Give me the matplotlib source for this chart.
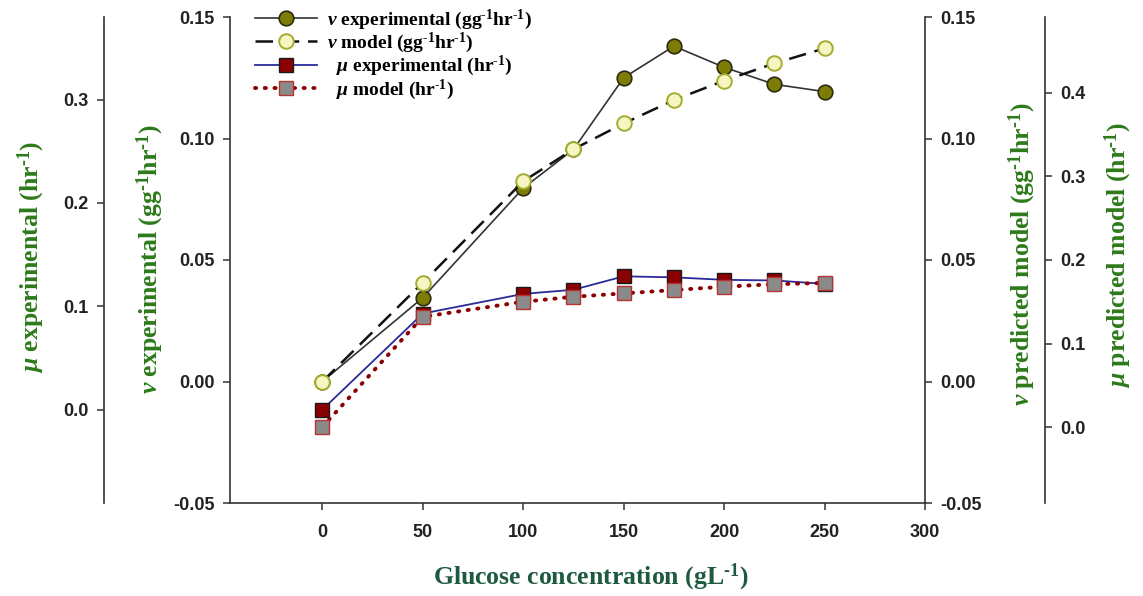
import numpy as np
import matplotlib
matplotlib.use("Agg")
import matplotlib.pyplot as plt

# Glucose concentration (g/L)
glucose = [0, 50, 100, 125, 150, 175, 200, 225, 250]

# specific substrate uptake rate, nu (g g-1 hr-1)
nu_exp = [0.0, 0.0345, 0.0796, 0.0955, 0.1250, 0.1380, 0.1293, 0.1223, 0.1193]
nu_model = [0.0, 0.0407, 0.0824, 0.0956, 0.1062, 0.1158, 0.1238, 0.1309, 0.1371]

# specific growth rate, mu (hr-1)
mu_exp = [0.0, 0.093, 0.112, 0.116, 0.129, 0.128, 0.1256, 0.125, 0.1217]
mu_model = [0.0, 0.132, 0.150, 0.156, 0.160, 0.164, 0.168, 0.171, 0.1725]

x_ticks = [0, 50, 100, 150, 200, 250, 300]
nu_ticks = [-0.05, 0.00, 0.05, 0.10, 0.15]
mu_exp_ticks = [0.0, 0.1, 0.2, 0.3]
mu_model_ticks = [0.0, 0.1, 0.2, 0.3, 0.4]

plt.rcParams["mathtext.fontset"] = "custom"
plt.rcParams["mathtext.rm"] = "Liberation Serif:bold"
plt.rcParams["mathtext.bf"] = "Liberation Serif:bold"
plt.rcParams["mathtext.it"] = "Liberation Serif:italic:bold"
plt.rcParams["mathtext.default"] = "rm"

W, H = 1143, 596
fig = plt.figure(figsize=(W / 100, H / 100), dpi=100)
ax = fig.add_axes([230 / W, 1 - 503 / H, 695 / W, 486 / H])

spine_col = "#333333"
label_green = "#2d7a1a"
tick_font = dict(family="Liberation Sans", weight="bold", size=13)

HY = "\u2010"  # short hyphen for the -1 exponents


def style_axis(a, side, outward=0):
    for s in a.spines.values():
        s.set_visible(False)
    a.spines[side].set_visible(True)
    a.spines[side].set_color(spine_col)
    a.spines[side].set_linewidth(1.2)
    if outward:
        a.spines[side].set_position(("outward", outward))
    a.yaxis.set_ticks_position(side)
    a.tick_params(axis="y", direction="out", length=5, width=1.1,
                  color=spine_col, pad=6)
    for t in a.get_yticklabels():
        t.set_fontproperties(tick_font)
        t.set_color("#222222")


# inner left: nu experimental
ax.set_xlim(-46, 300)
ax.set_ylim(-0.05, 0.15)
ax.set_yticks(nu_ticks)
ax.set_yticklabels([f"{v:.2f}" for v in nu_ticks])
ax.set_xticks(x_ticks)
ax.set_xticklabels([str(v) for v in x_ticks])
style_axis(ax, "left")
ax.spines["bottom"].set_visible(True)
ax.spines["bottom"].set_color(spine_col)
ax.spines["bottom"].set_linewidth(1.2)
ax.tick_params(axis="x", direction="out", length=5, width=1.1,
               color=spine_col, pad=10)
for t in ax.get_xticklabels():
    t.set_fontproperties(tick_font)
    t.set_color("#222222")

# inner right: nu predicted model
ax_vr = ax.twinx()
ax_vr.set_ylim(-0.05, 0.15)
ax_vr.set_yticks(nu_ticks)
ax_vr.set_yticklabels([f"{v:.2f}" for v in nu_ticks])
style_axis(ax_vr, "right")

# outer left: mu experimental
ax_ml = ax.twinx()
ax_ml.set_ylim(-0.0904, 0.380)
ax_ml.set_yticks(mu_exp_ticks)
ax_ml.set_yticklabels([f"{v:.1f}" for v in mu_exp_ticks])
style_axis(ax_ml, "left", outward=91)
ax_ml.yaxis.set_label_position("left")

# outer right: mu predicted model
ax_mr = ax.twinx()
ax_mr.set_ylim(-0.091, 0.491)
ax_mr.set_yticks(mu_model_ticks)
ax_mr.set_yticklabels([f"{v:.1f}" for v in mu_model_ticks])
style_axis(ax_mr, "right", outward=86.4)

h1, = ax.plot(glucose, nu_exp, color="#333333", lw=1.2, marker="o",
              ms=10.5, mfc="#7d7d05", mec="#2b2b10", mew=1.2, zorder=3)
h2, = ax_vr.plot(glucose, nu_model, color="#111111", lw=1.8,
                 dashes=(7, 3.5), marker="o", ms=10.5, mfc="#f6f6c4",
                 mec="#a3ad2e", mew=1.4, zorder=3)
h3, = ax_ml.plot(glucose, mu_exp, color="#2a2a9a", lw=1.3, marker="s",
                 ms=9.5, mfc="#8b0000", mec="#1a1a1a", mew=1.0, zorder=3)
h4, = ax_mr.plot(glucose, mu_model, color="#8b0000", lw=2.8,
                 linestyle=(0, (0.3, 2.2)), dash_capstyle="round",
                 marker="s", ms=9.5, mfc="#8a8a8a", mec="#b83232", mew=1.0,
                 zorder=3)

labels = [
    rf"$\mathit{{ν}}$ experimental (gg$^{{{HY}1}}$hr$^{{{HY}1}}$)",
    rf"$\mathit{{ν}}$ model (gg$^{{{HY}1}}$hr$^{{{HY}1}}$)",
    rf"  $\mathit{{μ}}$ experimental (hr$^{{{HY}1}}$)",
    rf"  $\mathit{{μ}}$ model (hr$^{{{HY}1}}$)",
]
leg = ax_mr.legend([h1, h2, h3, h4], labels, loc="upper left",
                   bbox_to_anchor=(0.036, 1.02), frameon=False,
                   borderpad=0, borderaxespad=0, handlelength=3.2,
                   handletextpad=0.5, labelspacing=-0.05,
                   prop=dict(family="Liberation Serif", weight="bold", size=14))

lab_font = dict(family="Liberation Serif", weight="bold", size=18.5)
fig.text(31 / W, 1 - 257 / H, rf"$\mathit{{μ}}$ experimental (hr$^{{{HY}1}}$)",
         rotation=90, ha="center", va="center", color=label_green, **lab_font)
fig.text(150 / W, 1 - 259 / H,
         rf"$\mathit{{ν}}$ experimental (gg$^{{{HY}1}}$hr$^{{{HY}1}}$)",
         rotation=90, ha="center", va="center", color=label_green, **lab_font)
fig.text(1022 / W, 1 - 254 / H,
         rf"$\mathit{{ν}}$ predicted model (gg$^{{{HY}1}}$hr$^{{{HY}1}}$)",
         rotation=90, ha="center", va="center", color=label_green, **lab_font)
fig.text(1118 / W, 1 - 255 / H,
         rf"$\mathit{{μ}}$ predicted model (hr$^{{{HY}1}}$)",
         rotation=90, ha="center", va="center", color=label_green, **lab_font)
fig.text(591 / W, 1 - 577 / H, rf"Glucose concentration (gL$^{{{HY}1}}$)",
         ha="center", va="center", color="#1d5a40",
         family="Liberation Serif", weight="bold", size=18.5)

fig.savefig("out.png", dpi=100)
